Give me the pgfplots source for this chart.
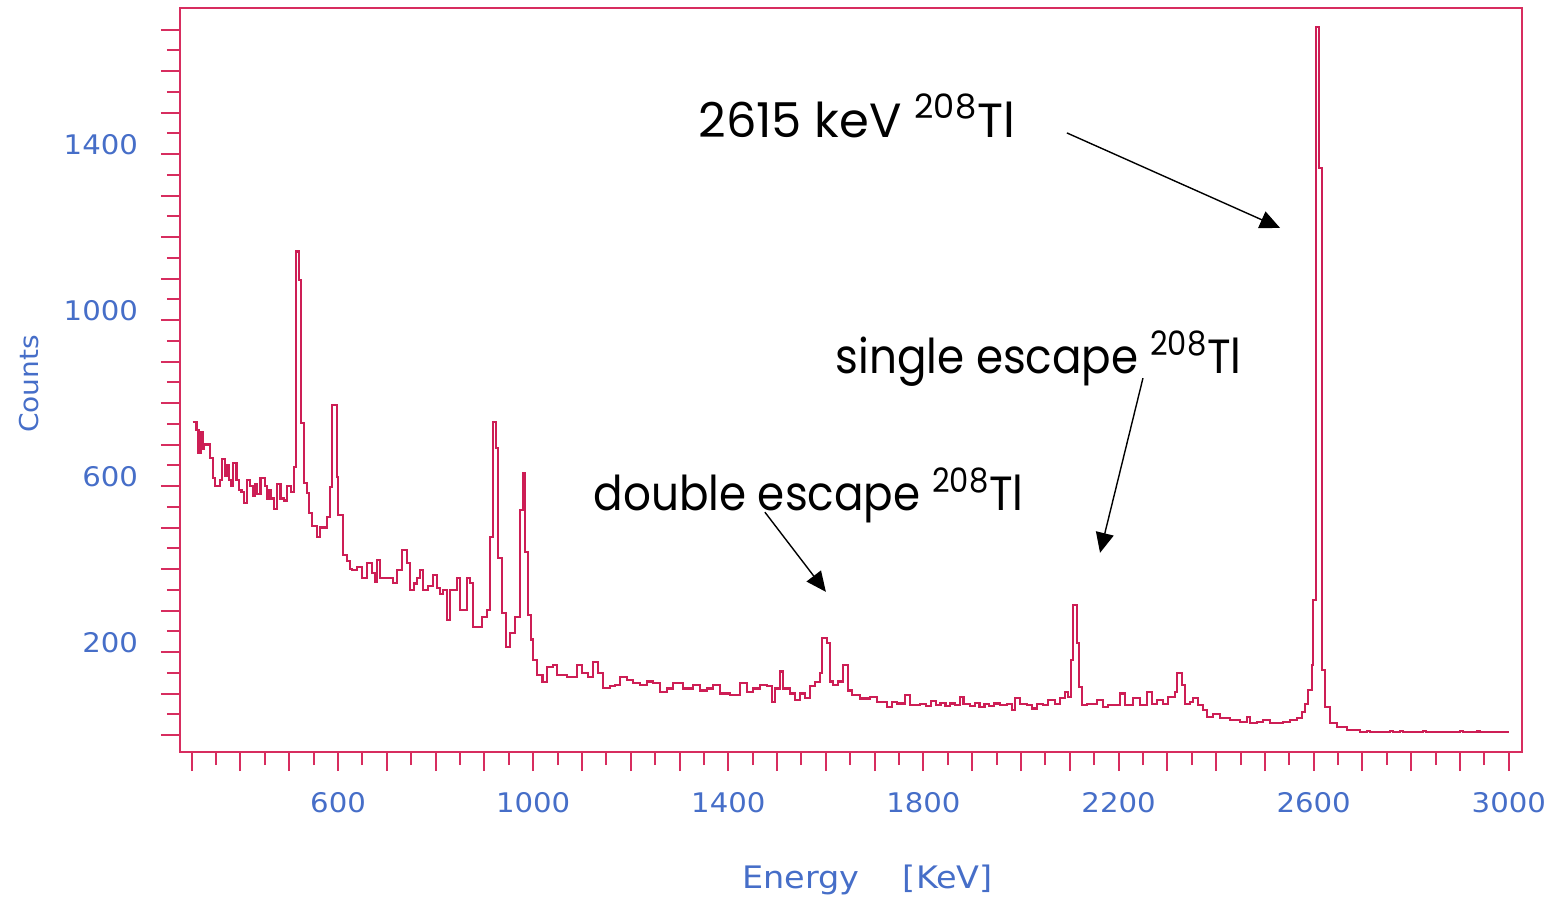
\documentclass[border=0pt]{standalone}
\usepackage{fontspec}
\usepackage{pgfplots}
\pgfplotsset{compat=1.18}
\usetikzlibrary{arrows.meta}
\newfontfamily\tickfont[FakeStretch=1.08]{DejaVu Sans}
\newfontfamily\annfont{Poppins}
\newfontfamily\annfontn[FakeStretch=0.91]{Poppins}
\definecolor{spec}{RGB}{205,30,85}
\definecolor{frm}{RGB}{215,45,95}
\definecolor{lab}{RGB}{70,110,200}
\pgfplotstableread{
x y
302 755
310 735
314 680
318 730
322 690
326 700
337 667
343 620
347 600
358 615
362 665
368 625
372 650
376 615
380 600
384 655
392 615
397 590
402 585
407 560
414 615
420 600
426 575
430 605
434 580
441 620
451 600
455 570
458 590
463 570
468 545
475 605
482 570
489 565
496 600
503 585
510 645
514 1165
520 1096
524 752
530 607
536 583
541 535
547 503
557 477
563 500
577 525
584 598
588 795
598 622
600 530
610 434
618 420
624 400
629 398
639 405
649 378
659 414
670 390
675 370
680 421
686 378
713 366
721 398
731 446
741 414
748 350
755 365
762 378
768 398
774 349
785 360
795 385
803 355
809 340
815 349
823 277
830 349
844 378
850 301
864 378
871 367
877 260
895 284
905 301
912 477
918 754
924 692
928 427
936 294
944 212
953 245
963 284
973 542
979 631
983 441
989 290
995 230
1000 180
1008 145
1019 128
1028 164
1041 168
1049 145
1069 140
1090 169
1100 150
1112 140
1123 176
1133 150
1143 113
1157 118
1168 120
1178 140
1192 133
1205 126
1219 120
1233 129
1246 125
1260 104
1274 112
1287 126
1307 112
1328 120
1342 107
1356 112
1369 120
1383 100
1403 96
1424 126
1438 104
1451 112
1465 120
1479 118
1489 80
1496 112
1506 153
1512 112
1526 100
1537 85
1547 100
1557 90
1567 118
1578 128
1588 150
1592 233
1602 221
1608 129
1614 120
1625 129
1635 169
1645 107
1653 96
1670 88
1690 92
1705 80
1725 68
1735 80
1746 76
1762 96
1772 72
1793 75
1805 70
1815 82
1825 72
1835 78
1845 70
1855 76
1865 72
1875 92
1882 74
1895 70
1905 78
1915 68
1925 74
1935 70
1945 76
1957 72
1971 75
1981 60
1988 89
1998 75
2012 72
2022 64
2033 75
2045 72
2055 84
2069 75
2080 89
2090 104
2096 92
2102 181
2106 313
2115 221
2119 116
2125 72
2135 75
2156 84
2168 67
2178 72
2203 100
2213 72
2229 89
2244 72
2258 104
2268 75
2279 84
2291 75
2301 92
2315 104
2320 149
2330 120
2336 75
2346 80
2352 89
2363 72
2373 60
2381 43
2393 50
2408 40
2428 36
2449 32
2463 43
2469 28
2484 32
2496 36
2510 28
2537 32
2551 36
2566 40
2576 55
2582 75
2588 108
2596 169
2598 325
2604 1706
2611 1366
2617 157
2623 67
2633 28
2648 19
2668 12
2695 8
2709 10
2715 7
2756 9
2762 7
2777 9
2783 7
2824 9
2830 7
2900 9
2906 7
2934 9
2940 7
2967 8
3000 8
}\spectrum
\begin{document}
\begin{tikzpicture}
\useasboundingbox (-90pt,-72pt) rectangle (686.5pt,376pt);
\begin{axis}[
  at={(0,0)}, anchor=south west,
  scale only axis, width=671pt, height=372pt,
  xmin=276, xmax=3027, ymin=-41, ymax=1752,
  axis line style={frm, line width=1pt},
  tick pos=left, tick align=outside,
  xtick={300,400,...,3000},
  xticklabels={,,,600,,,,1000,,,,1400,,,,1800,,,,2200,,,,2600,,,,3000},
  ytick={0,100,...,1700},
  yticklabels={,,200,,,,600,,,,1000,,,,1400,,,},
  minor x tick num=1, minor y tick num=1,
  major tick length=9.5pt, minor tick length=6.5pt,
  tick style={frm, line width=1pt},
  ticklabel style={lab, font=\tickfont\fontsize{13.5}{16}\selectfont},
  xticklabel style={anchor=base, yshift=-20.5pt},
  yticklabel style={anchor=base east, xshift=-8pt},
  clip=false,
]
\addplot[const plot, spec, line width=1.1pt] table {\spectrum};
\node[rotate=90, lab, font=\tickfont\fontsize{13}{15}\selectfont] at (axis cs:-33,846) {Counts};
\node[anchor=base west, lab, font=\tickfont\fontsize{15.5}{18}\selectfont, inner sep=0pt] at (axis cs:1428,-369) {Energy\hspace{1.4em}[KeV]};
\node[anchor=base west, inner sep=0pt, font=\annfont\fontsize{24}{28}\selectfont] at (axis cs:1338,1441) {2615 keV \textsuperscript{208}Tl};
\node[anchor=base west, inner sep=0pt, font=\annfontn\fontsize{24}{28}\selectfont] at (axis cs:1619,872) {single escape \textsuperscript{208}Tl};
\node[anchor=base west, inner sep=0pt, font=\annfontn\fontsize{24}{28}\selectfont] at (axis cs:1123,542) {double escape \textsuperscript{208}Tl};
\draw[black, line width=0.7pt, -{Triangle[length=10pt,width=9pt]}] (axis cs:2094,1451) -- (axis cs:2531,1222);
\draw[black, line width=0.7pt, -{Triangle[length=10pt,width=9pt]}] (axis cs:2250,860) -- (axis cs:2162,439);
\draw[black, line width=0.7pt, -{Triangle[length=10pt,width=9pt]}] (axis cs:1475,537) -- (axis cs:1600,345);
\end{axis}
\end{tikzpicture}
\end{document}
